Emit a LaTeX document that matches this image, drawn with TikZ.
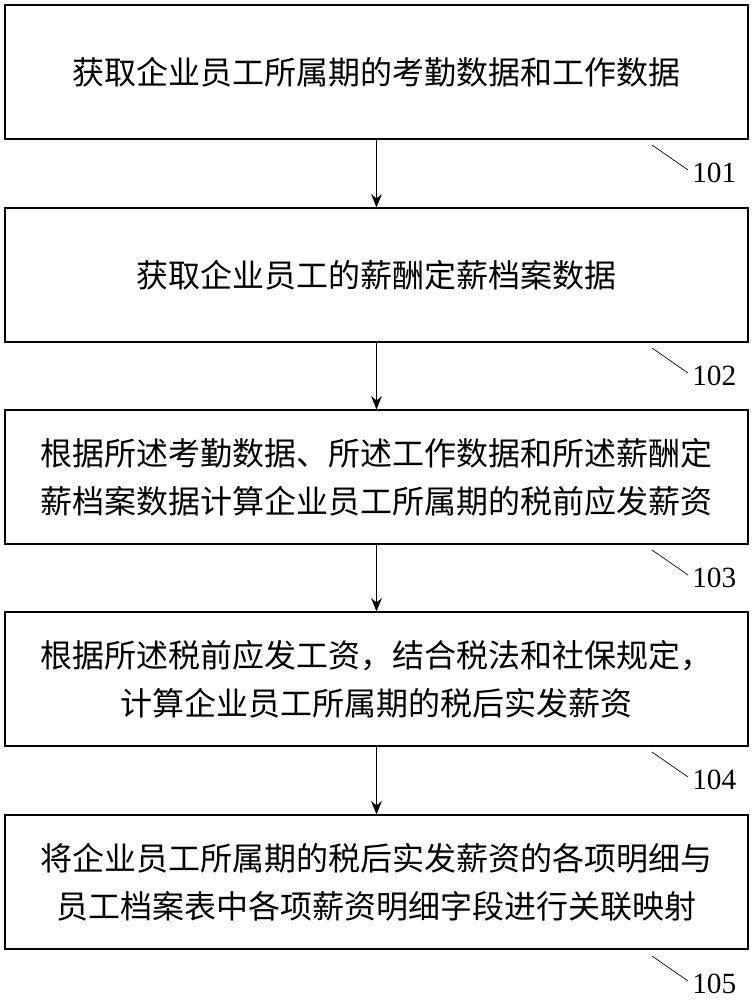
\documentclass[tikz,border=0pt]{standalone}
\usepackage{fontspec}
\setmainfont{Liberation Serif}
\newfontfamily\cjk{Noto Sans CJK SC}
\usetikzlibrary{arrows.meta}
\begin{document}
\begin{tikzpicture}[x=0.75pt,y=-0.75pt,
  stepbox/.style={draw,line width=0.8pt,minimum width=743*0.75pt,minimum height=134*0.75pt,inner sep=0pt,align=center,font=\cjk\fontsize{24}{36}\selectfont},
  arr/.style={-{Stealth[length=10pt,width=8pt]},line width=1pt},
  lab/.style={font=\fontsize{22}{24}\selectfont,anchor=west,inner sep=0pt},
  lead/.style={line width=0.5pt}]
\useasboundingbox (0,0) rectangle (754,1000);
\node[stepbox] (b1) at (376.5,72) {获取企业员工所属期的考勤数据和工作数据};
\node[stepbox] (b2) at (376.5,275) {获取企业员工的薪酬定薪档案数据};
\node[stepbox] (b3) at (376.5,477) {根据所述考勤数据、所述工作数据和所述薪酬定\\薪档案数据计算企业员工所属期的税前应发薪资};
\node[stepbox] (b4) at (376.5,679) {根据所述税前应发工资，结合税法和社保规定，\\计算企业员工所属期的税后实发薪资};
\node[stepbox] (b5) at (376.5,882) {将企业员工所属期的税后实发薪资的各项明细与\\员工档案表中各项薪资明细字段进行关联映射};
\draw[arr] (b1) -- (b2);
\draw[arr] (b2) -- (b3);
\draw[arr] (b3) -- (b4);
\draw[arr] (b4) -- (b5);
\foreach \b/\y/\t in {b1/139/101,b2/342/102,b3/544/103,b4/746/104,b5/950/105}{
  \coordinate (s\t) at (652,\y+6);
  \coordinate (e\t) at (688,\y+31);
  \draw[lead] (s\t) -- (e\t);
  \node[lab] (l\t) at (692,\y+34) {\t};
}
\end{tikzpicture}
\end{document}
